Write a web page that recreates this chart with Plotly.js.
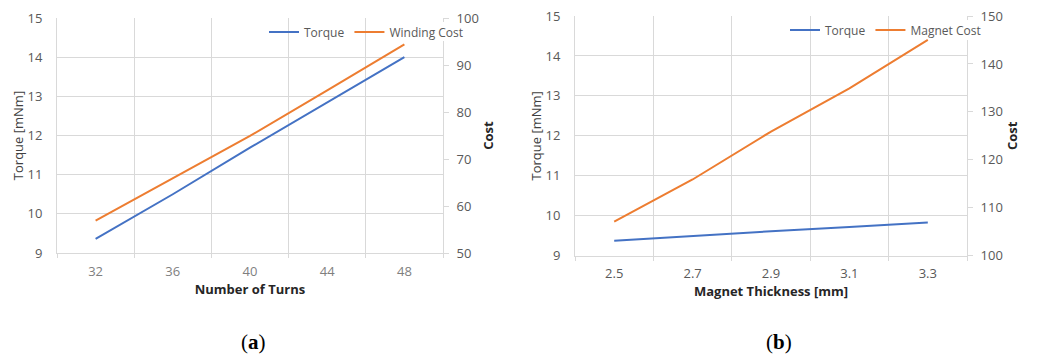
<!DOCTYPE html>
<html>
<head>
<meta charset="utf-8">
<script src="https://cdn.plot.ly/plotly-3.0.1.min.js"></script>
<style>html,body{margin:0;padding:0;background:#fff;}#chart{width:1037px;height:358px;}</style>
</head>
<body>
<div id="chart"></div>
<script>
// ---- data ----
const turns = [32, 36, 40, 44, 48];
const torqueA = [9.36, 10.5, 11.69, 12.85, 14.0];
const windingCost = [56.9, 65.9, 74.9, 84.6, 94.4];

const thickness = [2.5, 2.7, 2.9, 3.1, 3.3];
const torqueB = [9.375, 9.50, 9.61, 9.72, 9.83];
const magnetCost = [107.1, 115.9, 125.9, 134.9, 145.0];

const FONT = 'Open Sans, Noto Sans, sans-serif';
const BLUE = '#4472C4', ORANGE = '#ED7D31', GRID = '#d9d9d9';
const FS = 13;

const traces = [
  {x: turns, y: torqueA, name: 'Torque', type: 'scatter', mode: 'lines',
   line: {color: BLUE, width: 2}, xaxis: 'x', yaxis: 'y', legend: 'legend'},
  {x: turns, y: windingCost, name: 'Winding Cost', type: 'scatter', mode: 'lines',
   line: {color: ORANGE, width: 2}, xaxis: 'x', yaxis: 'y2', legend: 'legend'},
  {x: thickness, y: torqueB, name: 'Torque', type: 'scatter', mode: 'lines',
   line: {color: BLUE, width: 2}, xaxis: 'x2', yaxis: 'y3', legend: 'legend2'},
  {x: thickness, y: magnetCost, name: 'Magnet Cost', type: 'scatter', mode: 'lines',
   line: {color: ORANGE, width: 2}, xaxis: 'x2', yaxis: 'y4', legend: 'legend2'}
];

function xax(domain, range, tick0, dtick, mtick0, title, tcolor, fmt) {
  return {
    domain: domain, range: range,
    tickmode: 'linear', tick0: tick0, dtick: dtick, tickformat: fmt,
    showgrid: false, ticks: '', showline: true, linecolor: GRID, linewidth: 1,
    zeroline: false, fixedrange: true,
    tickfont: {family: FONT, size: FS, color: tcolor},
    ticklabelstandoff: 6,
    minor: {tickmode: 'linear', tick0: mtick0, dtick: dtick, showgrid: true,
            gridcolor: GRID, gridwidth: 1, ticks: 'outside', ticklen: 4, tickcolor: GRID},
    title: {text: '<b>' + title + '</b>', font: {family: FONT, size: FS, color: '#262626'}, standoff: 4}
  };
}
function yl(domain, anchor) {
  return {
    domain: domain, anchor: anchor, range: [9, 15], tickmode: 'linear', tick0: 9, dtick: 1,
    showgrid: true, gridcolor: GRID, gridwidth: 1, showline: true, linecolor: GRID,
    ticks: '', zeroline: false, fixedrange: true, ticklabelstandoff: 11,
    tickfont: {family: FONT, size: FS, color: '#595959'},
    title: {text: 'Torque [mNm]', font: {family: FONT, size: FS, color: '#404040'}, standoff: 0}
  };
}
function yr(overlay, anchor, range, dtick) {
  return {
    overlaying: overlay, anchor: anchor, side: 'right', range: range,
    tickmode: 'linear', tick0: range[0], dtick: dtick,
    showgrid: false, showline: true, linecolor: GRID, ticks: 'outside', ticklen: 5,
    tickcolor: GRID, zeroline: false, fixedrange: true, ticklabelstandoff: 5,
    tickfont: {family: FONT, size: FS, color: '#595959'},
    title: {text: '<b>Cost</b>', font: {family: FONT, size: FS, color: '#262626'}, standoff: 5}
  };
}

const xa = xax([57/1037, 443/1037], [30, 50], 32, 4, 30, 'Number of Turns', '#7f7f7f', 'd');
xa.anchor = 'y';
const xb = xax([575/1037, 967/1037], [2.4, 3.4], 2.5, 0.2, 2.4, 'Magnet Thickness [mm]', '#595959', '.1f');
xb.anchor = 'y3';

const legendStyle = {orientation: 'h', xanchor: 'left', yanchor: 'middle',
  bgcolor: 'rgba(255,255,255,0)', borderwidth: 0,
  font: {family: FONT, size: 12, color: '#595959'},
  itemclick: false, itemdoubleclick: false, tracegroupgap: 0};

const layout = {
  width: 1037, height: 358,
  margin: {l: 0, r: 0, t: 0, b: 0},
  paper_bgcolor: '#ffffff', plot_bgcolor: '#ffffff',
  font: {family: FONT, size: FS, color: '#595959'},
  xaxis: xa,
  yaxis: yl([1 - 253/358, 1 - 18/358], 'x'),
  yaxis2: yr('y', 'x', [50, 100], 10),
  xaxis2: xb,
  yaxis3: yl([1 - 255.7/358, 1 - 16/358], 'x2'),
  yaxis4: yr('y3', 'x2', [100, 150], 10),
  legend: Object.assign({}, legendStyle, {x: 264/1037, y: 1 - 32/358}),
  legend2: Object.assign({}, legendStyle, {x: 785/1037, y: 1 - 30/358}),
  shapes: [
    // white patches where the legend hides the right axis line (as in the reference)
    {type: 'rect', xref: 'paper', yref: 'paper', layer: 'above',
     x0: 436/1037, x1: 451/1037, y0: 1 - 41/358, y1: 1 - 22/358,
     fillcolor: '#ffffff', line: {width: 0}},
    {type: 'rect', xref: 'paper', yref: 'paper', layer: 'above',
     x0: 960/1037, x1: 975/1037, y0: 1 - 40/358, y1: 1 - 20/358,
     fillcolor: '#ffffff', line: {width: 0}}
  ],
  annotations: [
    {text: '(<b>a</b>)', xref: 'paper', yref: 'paper', x: 253/1037, y: 1 - 342/358,
     xanchor: 'center', yanchor: 'middle', showarrow: false,
     font: {family: 'Liberation Serif, serif', size: 21, color: '#000'}},
    {text: '(<b>b</b>)', xref: 'paper', yref: 'paper', x: 779/1037, y: 1 - 342/358,
     xanchor: 'center', yanchor: 'middle', showarrow: false,
     font: {family: 'Liberation Serif, serif', size: 21, color: '#000'}}
  ],
  showlegend: true
};

Plotly.newPlot('chart', traces, layout, {staticPlot: true, displayModeBar: false});
</script>
</body>
</html>
